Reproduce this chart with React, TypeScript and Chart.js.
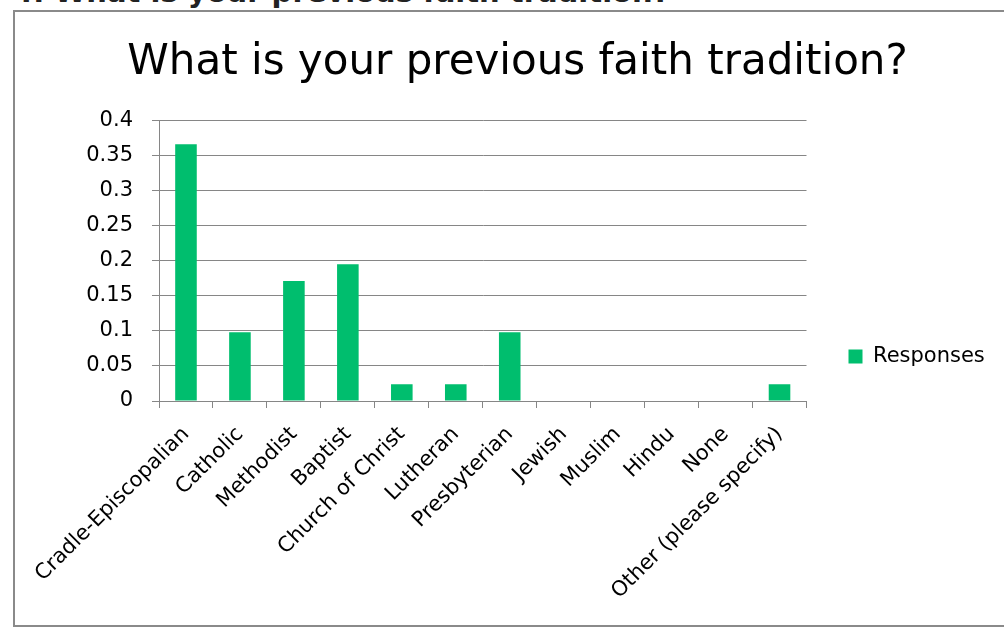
import React, { useEffect, useRef } from "react";
import { Chart, registerables } from "chart.js";

Chart.register(...registerables);

// ---- data ----
const pageHeading = "4. What is your previous faith tradition?";
const chartTitle = "What is your previous faith tradition?";
const seriesName = "Responses";
const categories = [
  "Cradle-Episcopalian",
  "Catholic",
  "Methodist",
  "Baptist",
  "Church of Christ",
  "Lutheran",
  "Presbyterian",
  "Jewish",
  "Muslim",
  "Hindu",
  "None",
  "Other (please specify)",
];
const responses = [0.366, 0.098, 0.171, 0.195, 0.024, 0.024, 0.098, 0, 0, 0, 0, 0.024];
const yMin = 0;
const yMax = 0.4;
const yStep = 0.05;

// ---- style / layout ----
const FONT = "DejaVu Sans";
const BAR_COLOR = "#00BE6E";
const GRID_COLOR = "#868686";
const CANVAS_W = 1035;
const CANVAS_H = 627;
const PLOT_LEFT = 159;
const PLOT_RIGHT = 806.5;
const PLOT_BOTTOM = 401;
const LABEL_SIZE = 21;
const LEGEND_PAD = 42;
const LEGEND_BOX = 14;
const PAD_TOP = 10;
const PAD_BOTTOM = 10;

export default function App() {
  const canvasRef = useRef<HTMLCanvasElement | null>(null);

  useEffect(() => {
    const canvas = canvasRef.current;
    if (!canvas) return;

    const m = document.createElement("canvas").getContext("2d")!;
    m.font = `${LABEL_SIZE}px "${FONT}"`;
    const textW = m.measureText(seriesName).width;
    const legendW = LEGEND_PAD + LEGEND_BOX + LABEL_SIZE / 2 + textW + 10;
    const side = CANVAS_W - PLOT_RIGHT - legendW;

    Chart.defaults.font.family = FONT;
    Chart.defaults.color = "#000";

    const chart = new Chart(canvas, {
      type: "bar",
      data: {
        labels: categories,
        datasets: [
          {
            label: seriesName,
            data: responses,
            backgroundColor: BAR_COLOR,
            borderWidth: 0,
            barPercentage: 0.4,
            categoryPercentage: 1.0,
          },
        ],
      },
      options: {
        responsive: false,
        animation: false,
        devicePixelRatio: 1,
        layout: {
          padding: { left: side, right: side, top: PAD_TOP, bottom: PAD_BOTTOM },
        },
        plugins: {
          title: {
            display: true,
            text: chartTitle,
            color: "#000",
            font: { family: FONT, size: 42, weight: "normal", lineHeight: 1.2 },
            padding: { top: 28, bottom: 32 },
          },
          legend: {
            position: "right",
            align: "center",
            title: {
              display: true,
              text: "",
              font: { size: 10, lineHeight: 1 },
              padding: { top: 76, bottom: 0 },
            },
            labels: {
              boxWidth: LEGEND_BOX,
              boxHeight: LEGEND_BOX,
              padding: LEGEND_PAD,
              color: "#000",
              font: { family: FONT, size: LABEL_SIZE },
            },
          },
          tooltip: { enabled: false },
        },
        scales: {
          x: {
            grid: {
              offset: true,
              drawOnChartArea: false,
              drawTicks: true,
              tickLength: 7,
              color: GRID_COLOR,
            },
            border: { display: true, color: GRID_COLOR, width: 1 },
            ticks: {
              autoSkip: false,
              minRotation: 45,
              maxRotation: 45,
              padding: 14,
              color: "#000",
              font: { family: FONT, size: LABEL_SIZE },
            },
            afterFit: (s: any) => {
              s.height = CANVAS_H - PAD_BOTTOM - PLOT_BOTTOM;
            },
          },
          y: {
            min: yMin,
            max: yMax,
            grid: { color: GRID_COLOR, tickLength: 7 },
            border: { display: true, color: GRID_COLOR, width: 1 },
            ticks: {
              stepSize: yStep,
              padding: 19,
              color: "#000",
              font: { family: FONT, size: LABEL_SIZE },
              callback: (v: any) => String(Number(Number(v).toFixed(2))),
            },
            afterFit: (s: any) => {
              s.width = PLOT_LEFT - side;
            },
          },
        },
      },
    });

    return () => chart.destroy();
  }, []);

  return (
    <div
      style={{
        position: "fixed",
        left: 0,
        top: 0,
        width: 1004,
        height: 627,
        overflow: "hidden",
        background: "#fff",
      }}
    >
      <div
        style={{
          position: "absolute",
          left: 13,
          top: -22,
          font: `bold 29px "${FONT}"`,
          lineHeight: "29px",
          whiteSpace: "nowrap",
          color: "#222",
        }}
      >
        {pageHeading}
      </div>
      <div
        style={{
          position: "absolute",
          left: 13,
          top: 10,
          width: 2000,
          height: 617,
          boxSizing: "border-box",
          border: "2px solid #8a8a8a",
        }}
      />
      <canvas
        ref={canvasRef}
        width={CANVAS_W}
        height={CANVAS_H}
        style={{ position: "absolute", left: 0, top: 0, width: CANVAS_W, height: CANVAS_H }}
      />
    </div>
  );
}
